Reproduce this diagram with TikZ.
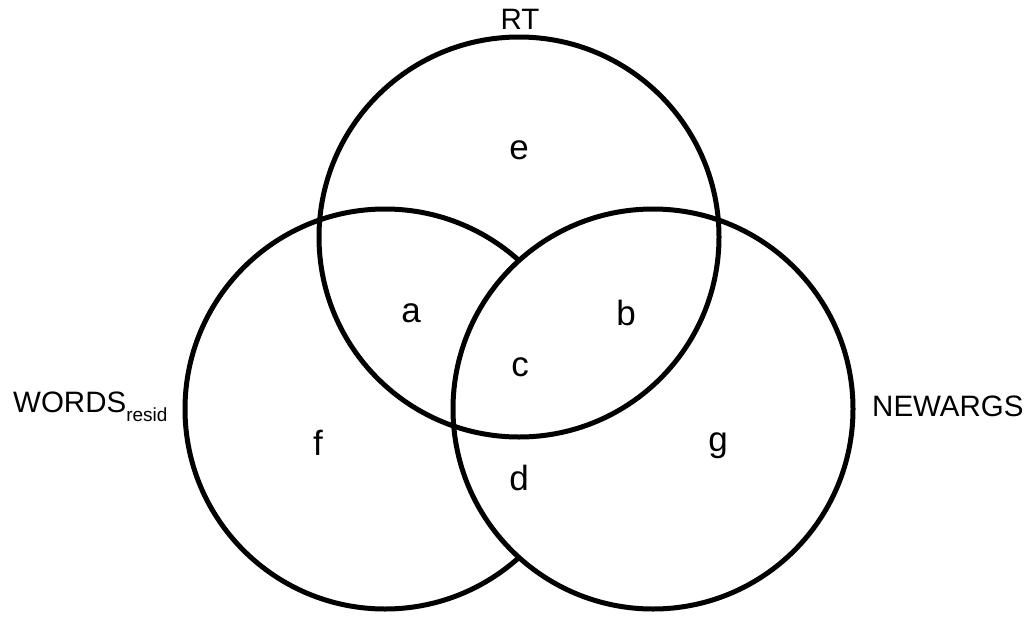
\documentclass[tikz,border=0pt]{standalone}
\usepackage{fontspec}
\setmainfont{Liberation Sans}
\usetikzlibrary{positioning}
\tikzset{
	setcirc/.style ={circle, draw=black, line width=5pt, minimum size=400pt, inner sep=0pt},
	region/.style  ={font=\fontsize{35}{40}\selectfont, inner sep=0pt},
	setname/.style ={font=\fontsize{29.5}{32}\selectfont, inner sep=0pt},
}

\begin{document}
\begin{tikzpicture}[x=1pt, y=-1pt]
	\useasboundingbox (0,0) rectangle (1033,616);
	% the three sets (right one hides the left arc inside it)
	\node[setcirc] (words) at (385,409) {};
	\node[setcirc, fill=white] (newargs) at (653,409) {};
	\node[setcirc] (rt) at (519,237) {};
	% set names
	\node[setname] (lrt) at (520,19) {RT};
	\node[setname, anchor=base west] (lwords) at (13,412) {WORDS\raisebox{-9pt}{\fontsize{19}{20}\selectfont resid}};
	\node[setname, anchor=base west] (lnew) at (872,416) {NEWARGS};
	% regions
	\node[region] (e) at (519,150) {e};
	\node[region] (a) at (411,313) {a};
	\node[region] (b) at (626,313) {b};
	\node[region] (c) at (520,367) {c};
	\node[region] (f) at (318,443) {f};
	\node[region] (g) at (718,446) {g};
	\node[region] (d) at (519,478) {d};
\end{tikzpicture}
\end{document}
